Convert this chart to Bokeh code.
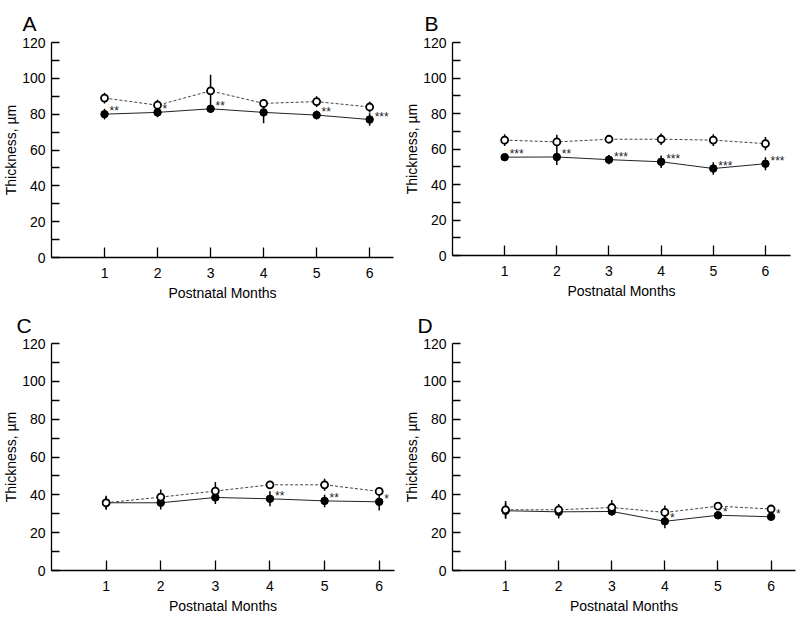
from bokeh.plotting import figure
from bokeh.layouts import column, row
from bokeh.models import ColumnDataSource, FixedTicker, Range1d
from bokeh.core.properties import value
from bokeh.embed import file_html
from bokeh.resources import INLINE

# ---------------- data ----------------
months = [1, 2, 3, 4, 5, 6]
month_labels = ["1", "2", "3", "4", "5", "6"]
y_ticks = [0, 20, 40, 60, 80, 100, 120]
y_minor = [10, 30, 50, 70, 90, 110]

a_open = [89, 85, 93, 86, 87, 84]
a_open_err = [3, 3, 9, 2.5, 3, 3]
a_fill = [80, 81, 83, 81, 79.5, 77]
a_fill_err = [3, 2.7, 2, 6, 2.5, 3.5]
a_stars = ["**", "*", "**", "", "**", "***"]

b_open = [65, 64, 65.5, 65.5, 65, 63]
b_open_err = [3.3, 4, 1.5, 3.3, 3.3, 3.7]
b_fill = [55.4, 55.5, 54, 52.8, 49, 51.7]
b_fill_err = [1.5, 4.5, 2.6, 3.5, 3.5, 3.7]
b_stars = ["***", "**", "***", "***", "***", "***"]

c_open = [35.8, 38.8, 42, 45.3, 45.3, 41.8]
c_open_err = [3.7, 4, 4.8, 2, 3.2, 2]
c_fill = [35.8, 35.8, 38.6, 37.9, 36.8, 36.3]
c_fill_err = [3, 3.5, 3.5, 4, 3.3, 4.6]
c_stars = ["", "", "", "**", "**", "*"]

d_open = [32.1, 32.1, 33.3, 30.7, 34, 32.5]
d_open_err = [4.7, 3, 4, 3.7, 1.5, 1.5]
d_fill = [31.6, 31, 31.2, 26, 29.2, 28.4]
d_fill_err = [4, 3.5, 2, 3.7, 1, 1]
d_stars = ["", "", "", "*", "*", "*"]

FONT = "Liberation Sans"


def panel(letter, open_v, open_e, fill_v, fill_e, stars, fw, fh,
          bl, br, bt, bb, x_end, letter_dx, letter_standoff):
    p = figure(frame_width=fw, frame_height=fh,
               x_range=Range1d(0, x_end), y_range=Range1d(0, 120),
               output_backend="svg", toolbar_location=None,
               min_border_left=bl, min_border_right=br,
               min_border_top=bt, min_border_bottom=bb)
    p.grid.visible = False
    p.outline_line_color = None
    p.background_fill_color = "white"
    p.border_fill_color = "white"

    p.title.text = letter
    p.title.text_font = FONT
    p.title.text_font_size = "21px"
    p.title.text_font_style = "normal"
    p.title.text_color = "black"
    p.title.align = "left"
    p.title.offset = letter_dx
    p.title.standoff = letter_standoff

    src_o = ColumnDataSource(dict(
        x=months, y=open_v,
        lo=[v - e for v, e in zip(open_v, open_e)],
        hi=[v + e for v, e in zip(open_v, open_e)]))
    src_f = ColumnDataSource(dict(
        x=months, y=fill_v,
        lo=[v - e for v, e in zip(fill_v, fill_e)],
        hi=[v + e for v, e in zip(fill_v, fill_e)],
        s=stars))

    p.line("x", "y", source=src_f, line_color="#222", line_width=1)
    p.line("x", "y", source=src_o, line_color="#444", line_width=1,
           line_dash="3 2")
    p.segment("x", "lo", "x", "hi", source=src_f, line_color="black",
              line_width=1.5)
    p.segment("x", "lo", "x", "hi", source=src_o, line_color="black",
              line_width=1.5)
    p.scatter("x", "y", source=src_f, size=7.5, marker="circle",
              fill_color="black", line_color="black")
    p.scatter("x", "y", source=src_o, size=7, marker="circle",
              fill_color="white", line_color="black", line_width=1.8)
    p.text("x", "y", text="s", source=src_f, x_offset=5, y_offset=-3,
           text_font=value(FONT), text_font_size="12px",
           text_baseline="middle", text_align="left", text_color="#222")

    for ax in (p.xaxis[0], p.yaxis[0]):
        ax.axis_line_color = "black"
        ax.axis_line_width = 1.3
        ax.major_tick_line_color = "black"
        ax.major_tick_line_width = 1.3
        ax.major_tick_out = 0
        ax.major_label_text_font = FONT
        ax.major_label_text_font_size = "14px"
        ax.major_label_text_color = "black"
        ax.major_label_text_line_height = 1.0
        ax.axis_label_text_font = FONT
        ax.axis_label_text_font_size = "14px"
        ax.axis_label_text_font_style = "normal"
        ax.axis_label_text_color = "black"
        ax.axis_label_text_line_height = 1.0

    xa = p.xaxis[0]
    xa.ticker = FixedTicker(ticks=months)
    xa.major_label_overrides = {m: l for m, l in zip(months, month_labels)}
    xa.major_tick_in = 10
    xa.minor_tick_line_color = None
    xa.major_label_standoff = 10
    xa.axis_label = "Postnatal Months"
    xa.axis_label_standoff = 4

    ya = p.yaxis[0]
    ya.ticker = FixedTicker(ticks=y_ticks, minor_ticks=y_minor)
    ya.major_tick_in = 8
    ya.minor_tick_in = 8
    ya.minor_tick_out = 0
    ya.minor_tick_line_color = "black"
    ya.minor_tick_line_width = 1.3
    ya.major_label_standoff = 6
    ya.axis_label = "Thickness, µm"
    ya.axis_label_standoff = 0
    return p


pA = panel("A", a_open, a_open_err, a_fill, a_fill_err, a_stars,
           342, 215, 50, 8, 42, 47, 6.45, -29, 16)
pB = panel("B", b_open, b_open_err, b_fill, b_fill_err, b_stars,
           338, 213, 50, 12, 42, 47, 6.48, -28, 16)
pC = panel("C", c_open, c_open_err, c_fill, c_fill_err, c_stars,
           343, 227, 50, 7, 39, 47, 6.28, -35, 13)
pD = panel("D", d_open, d_open_err, d_fill, d_fill_err, d_stars,
           343, 227, 50, 7, 39, 47, 6.46, -35, 13)

layout = column(row(pA, pB, spacing=0), row(pC, pD, spacing=0), spacing=0)

open("out.html", "w").write(file_html(layout, INLINE))
